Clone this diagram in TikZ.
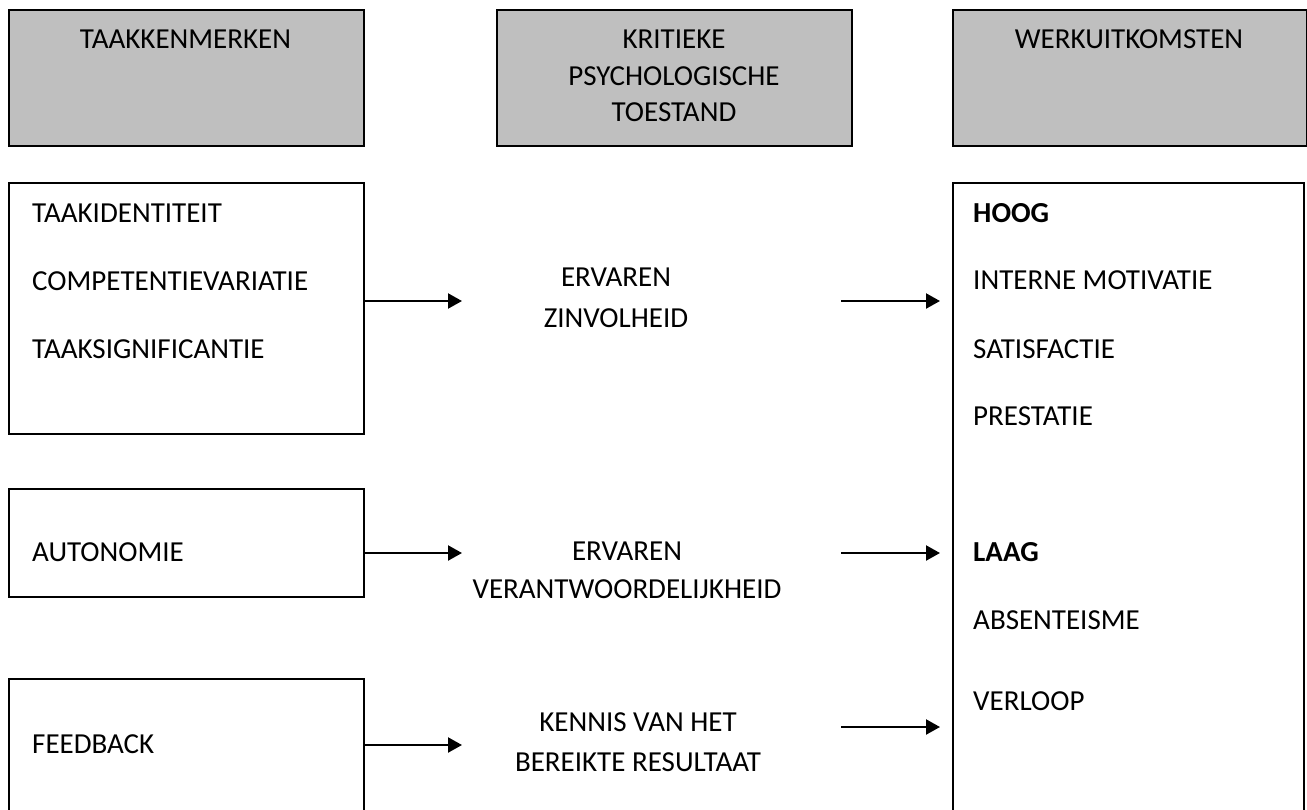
\documentclass[tikz,border=0pt]{standalone}
\usepackage{fontspec}
\setmainfont{Carlito}
\usetikzlibrary{arrows.meta}
\tikzset{
  box/.style={draw=black, line width=1.7pt, rectangle, inner sep=0pt},
  headbox/.style={box, fill=headgray},
  txt/.style={inner sep=0pt, font=\fontsize{29}{35}\selectfont},
  ltxt/.style={txt, anchor=base west},
  ctxt/.style={txt, anchor=base},
  arr/.style={line width=2.2pt, -{Triangle[length=14pt,width=15pt]}}
}
\definecolor{headgray}{RGB}{191,191,191}
\begin{document}
\begin{tikzpicture}[x=1pt,y=-1pt]
\useasboundingbox (0,0) rectangle (1307,809);
\clip (0,0) rectangle (1307,809);
% header boxes
\node[headbox, anchor=north west, minimum width=355pt, minimum height=136pt] (h1) at (8,9) {};
\node[headbox, anchor=north west, minimum width=355pt, minimum height=136pt] (h2) at (496,9) {};
\node[headbox, anchor=north west, minimum width=354pt, minimum height=136pt] (h3) at (952,9) {};
\node[ctxt] (h1t) at (185.5,48.5) {TAAKKENMERKEN};
\node[ctxt] (h2a) at (674,48.5) {KRITIEKE};
\node[ctxt] (h2b) at (674,85) {PSYCHOLOGISCHE};
\node[ctxt] (h2c) at (674,121) {TOESTAND};
\node[ctxt] (h3t) at (1129,48.5) {WERKUITKOMSTEN};
% left boxes
\node[box, anchor=north west, minimum width=355pt, minimum height=251pt] (b1) at (8,182) {};
\node[box, anchor=north west, minimum width=355pt, minimum height=108pt] (b2) at (8,488) {};
\node[box, anchor=north west, minimum width=355pt, minimum height=160pt] (b3) at (8,678) {};
\node[ltxt] (l1) at (32,222.5) {TAAKIDENTITEIT};
\node[ltxt] (l2) at (32,290.5) {COMPETENTIEVARIATIE};
\node[ltxt] (l3) at (32,358.5) {TAAKSIGNIFICANTIE};
\node[ltxt] (l4) at (32,561.5) {AUTONOMIE};
\node[ltxt] (l5) at (32,753.5) {FEEDBACK};
% right box
\node[box, anchor=north west, minimum width=351pt, minimum height=660pt] (rb) at (952,182) {};
\node[ltxt, font=\fontsize{29}{35}\selectfont\bfseries] (r1) at (973,222.5) {HOOG};
\node[ltxt] (r2) at (973,289) {INTERNE MOTIVATIE};
\node[ltxt] (r3) at (973,358.5) {SATISFACTIE};
\node[ltxt] (r4) at (973,425.5) {PRESTATIE};
\node[ltxt, font=\fontsize{29}{35}\selectfont\bfseries] (r5) at (973,561.5) {LAAG};
\node[ltxt] (r6) at (973,629.5) {ABSENTEISME};
\node[ltxt] (r7) at (973,710.5) {VERLOOP};
% middle texts
\node[ctxt] (m1a) at (616,286.5) {ERVAREN};
\node[ctxt] (m1b) at (616,327) {ZINVOLHEID};
\node[ctxt] (m2a) at (627,560.5) {ERVAREN};
\node[ctxt] (m2b) at (627,598.5) {VERANTWOORDELIJKHEID};
\node[ctxt] (m3a) at (638,731.5) {KENNIS VAN HET};
\node[ctxt] (m3b) at (638,771) {BEREIKTE RESULTAAT};
% arrow end points
\coordinate (t1) at (462,301);
\coordinate (t2) at (462,553);
\coordinate (t3) at (462,745);
\coordinate (s1) at (841,301);
\coordinate (s2) at (841,553);
\coordinate (s3) at (841,727);
\coordinate (e1) at (940,301);
\coordinate (e2) at (940,553);
\coordinate (e3) at (940,727);
\draw[arr] (b1.east |- t1) -- (t1);
\draw[arr] (b2.east |- t2) -- (t2);
\draw[arr] (b3.east |- t3) -- (t3);
\draw[arr] (s1) -- (e1);
\draw[arr] (s2) -- (e2);
\draw[arr] (s3) -- (e3);
\end{tikzpicture}
\end{document}
